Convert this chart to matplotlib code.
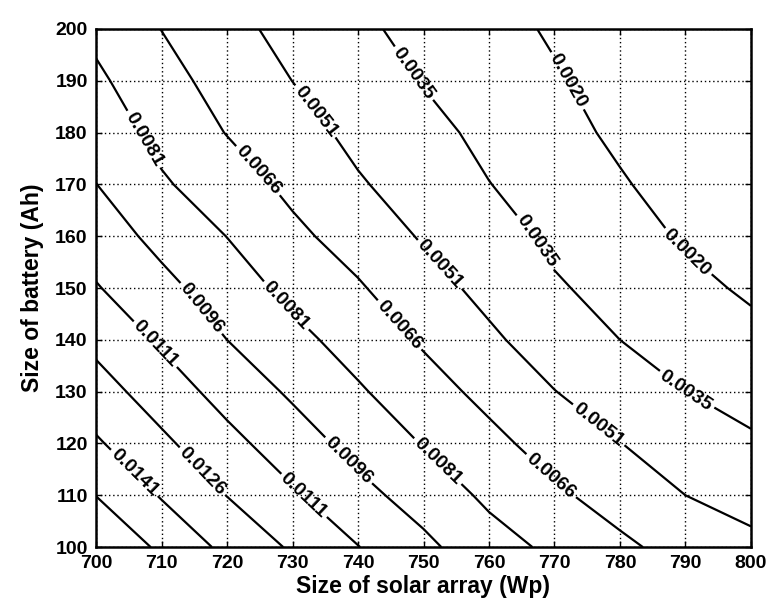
import matplotlib
matplotlib.use("Agg")
import matplotlib.pyplot as plt
import numpy as np

plt.rcParams['font.family'] = ['Liberation Sans', 'DejaVu Sans']

# solar array size (Wp) and battery size (Ah) of the simulation grid
solar_wp = [700, 710, 720, 730, 740, 750, 760, 770, 780, 790, 800]
battery_ah = [100, 110, 120, 130, 140, 150, 160, 170, 180, 190, 200]

# loss of load probability, one row per battery size, columns follow solar_wp
lolp = [
    [0.01726, 0.01527, 0.01375, 0.01241, 0.01114, 0.00994, 0.00869, 0.00780, 0.00689, 0.00606, 0.00546],
    [0.01557, 0.01399, 0.01257, 0.01130, 0.01005, 0.00897, 0.00782, 0.00685, 0.00599, 0.00510, 0.00456],
    [0.01428, 0.01290, 0.01154, 0.01031, 0.00911, 0.00803, 0.00701, 0.00598, 0.00513, 0.00430, 0.00369],
    [0.01323, 0.01187, 0.01056, 0.00938, 0.00827, 0.00722, 0.00618, 0.00513, 0.00431, 0.00351, 0.00302],
    [0.01221, 0.01090, 0.00960, 0.00852, 0.00750, 0.00642, 0.00535, 0.00438, 0.00350, 0.00294, 0.00240],
    [0.01120, 0.01003, 0.00884, 0.00770, 0.00675, 0.00566, 0.00469, 0.00365, 0.00305, 0.00238, 0.00179],
    [0.01040, 0.00916, 0.00808, 0.00692, 0.00599, 0.00496, 0.00411, 0.00321, 0.00259, 0.00184, 0.00127],
    [0.00962, 0.00828, 0.00730, 0.00626, 0.00524, 0.00445, 0.00353, 0.00286, 0.00214, 0.00139, 0.00085],
    [0.00900, 0.00766, 0.00655, 0.00567, 0.00473, 0.00394, 0.00314, 0.00250, 0.00172, 0.00100, 0.00055],
    [0.00837, 0.00712, 0.00604, 0.00509, 0.00427, 0.00343, 0.00280, 0.00215, 0.00143, 0.00070, 0.00035],
    [0.00775, 0.00658, 0.00554, 0.00464, 0.00382, 0.00298, 0.00250, 0.00182, 0.00115, 0.00048, 0.00020],
]

levels = [0.0020, 0.0035, 0.0051, 0.0066, 0.0081, 0.0096, 0.0111, 0.0126, 0.0141, 0.0156]

# where the inline labels go (each spot sits on the line it labels)
label_spots = [
    (772, 190), (790, 156.5),
    (748, 191), (766, 158), (790, 130),
    (733.4, 184), (752, 154), (777, 124),
    (724.6, 172.5), (746, 142.5), (769.3, 113.5),
    (707, 178.5), (728.5, 146), (752.5, 117),
    (716, 146), (738.3, 116.4),
    (709, 139.1), (731.5, 109.6),
    (716.2, 114.6),
    (706, 114.5),
]

fig = plt.figure(figsize=(7.7, 6.13), dpi=100)
ax = fig.add_axes([0.1247, 0.1075, 0.8506, 0.8452])

X, Y = np.meshgrid(solar_wp, battery_ah)
cs = ax.contour(X, Y, np.array(lolp), levels=levels, colors='black', linewidths=1.6)

ax.clabel(cs, manual=label_spots, inline=True, inline_spacing=3,
          fmt='%.4f', fontsize=14, colors='black')
for t in cs.labelTexts:
    t.set_fontweight('bold')

ax.set_xlim(700, 800)
ax.set_ylim(100, 200)
ax.set_xticks(solar_wp)
ax.set_yticks(battery_ah)
ax.grid(True, linestyle=(0, (1, 2)), color='black', linewidth=1.0)
ax.tick_params(direction='in', top=True, right=True, length=4, width=1, labelsize=14)
ax.tick_params(axis='x', pad=6)
ax.tick_params(axis='y', pad=6)
for lab in ax.get_xticklabels() + ax.get_yticklabels():
    lab.set_fontweight('bold')
for sp in ax.spines.values():
    sp.set_linewidth(1.8)

ax.set_xlabel('Size of solar array (Wp)', fontsize=16.5, fontweight='bold', labelpad=2)
ax.set_ylabel('Size of battery (Ah)', fontsize=16.5, fontweight='bold', labelpad=8)

fig.savefig('out.png', dpi=100)
